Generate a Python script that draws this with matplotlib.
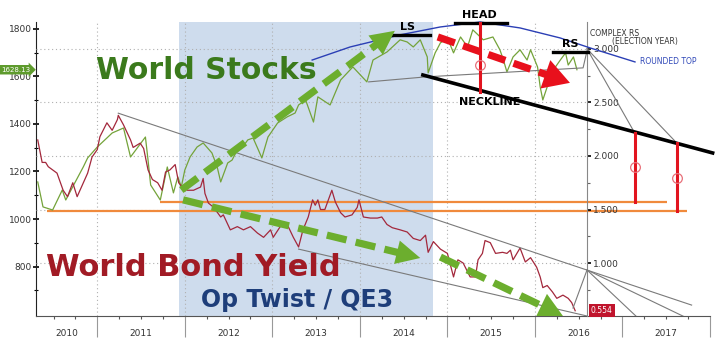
import matplotlib
matplotlib.use('Agg')
import numpy as np
import matplotlib.pyplot as plt
import matplotlib.transforms as mtrans
from matplotlib.patches import Polygon

# --- data ---
stock_years = [2010.32, 2010.38, 2010.49, 2010.60, 2010.64, 2010.73, 2010.84, 2010.89, 2011.00, 2011.11,
               2011.17, 2011.30, 2011.38, 2011.55, 2011.58, 2011.61, 2011.72, 2011.80, 2011.87, 2011.92,
               2011.96, 2012.00, 2012.06, 2012.14, 2012.21, 2012.31, 2012.37, 2012.41, 2012.49, 2012.54,
               2012.60, 2012.66, 2012.72, 2012.78, 2012.84, 2012.88, 2012.95, 2013.06, 2013.17, 2013.26,
               2013.30, 2013.38, 2013.47, 2013.52, 2013.66, 2013.78, 2013.92, 2014.08, 2014.15, 2014.31,
               2014.46, 2014.54, 2014.61, 2014.69, 2014.77, 2014.78, 2014.86, 2014.92, 2015.00, 2015.07,
               2015.15, 2015.23, 2015.29, 2015.41, 2015.52, 2015.60, 2015.64, 2015.68, 2015.75, 2015.83,
               2015.91, 2015.95, 2016.03, 2016.06, 2016.09, 2016.14, 2016.21, 2016.29, 2016.35, 2016.38,
               2016.44, 2016.48]
stock_vals = [1156, 1051, 1038, 1122, 1080, 1143, 1219, 1257, 1303, 1341,
              1362, 1383, 1261, 1345, 1248, 1143, 1080, 1219, 1110, 1177,
              1135, 1206, 1261, 1303, 1320, 1278, 1219, 1156, 1236, 1248,
              1291, 1303, 1333, 1341, 1291, 1257, 1345, 1404, 1430, 1446,
              1480, 1501, 1408, 1514, 1480, 1585, 1640, 1577, 1669, 1703,
              1754, 1745, 1724, 1754, 1682, 1615, 1699, 1741, 1762, 1699,
              1766, 1724, 1796, 1754, 1766, 1712, 1669, 1619, 1682, 1712,
              1669, 1712, 1640, 1556, 1501, 1556, 1627, 1669, 1699, 1648,
              1682, 1628.13]

yield_years = [2010.32, 2010.37, 2010.41, 2010.44, 2010.49, 2010.54, 2010.61, 2010.66, 2010.72, 2010.77,
               2010.83, 2010.89, 2010.94, 2011.00, 2011.03, 2011.11, 2011.17, 2011.23, 2011.24, 2011.30,
               2011.38, 2011.41, 2011.49, 2011.53, 2011.58, 2011.63, 2011.69, 2011.74, 2011.78, 2011.83,
               2011.89, 2011.93, 2011.98, 2012.03, 2012.10, 2012.18, 2012.21, 2012.23, 2012.27, 2012.33,
               2012.41, 2012.44, 2012.52, 2012.60, 2012.67, 2012.75, 2012.83, 2012.90, 2012.98, 2013.01,
               2013.09, 2013.17, 2013.24, 2013.30, 2013.35, 2013.41, 2013.46, 2013.49, 2013.52, 2013.55,
               2013.60, 2013.68, 2013.72, 2013.78, 2013.83, 2013.91, 2013.97, 2013.99, 2014.04, 2014.12,
               2014.20, 2014.25, 2014.31, 2014.37, 2014.46, 2014.54, 2014.61, 2014.69, 2014.75, 2014.78,
               2014.84, 2014.92, 2015.00, 2015.07, 2015.12, 2015.18, 2015.26, 2015.32, 2015.35, 2015.40,
               2015.43, 2015.49, 2015.55, 2015.63, 2015.68, 2015.72, 2015.75, 2015.83, 2015.89, 2015.95,
               2016.02, 2016.06, 2016.09, 2016.14, 2016.20, 2016.25, 2016.32, 2016.38, 2016.42, 2016.46]
yield_vals = [2.15, 1.94, 1.94, 1.90, 1.87, 1.84, 1.68, 1.62, 1.75, 1.62,
              1.73, 1.84, 1.99, 2.06, 2.18, 2.31, 2.24, 2.34, 2.38, 2.29,
              2.15, 2.08, 2.12, 2.07, 1.87, 1.78, 1.75, 1.68, 1.85, 1.87,
              1.92, 1.75, 1.70, 1.68, 1.68, 1.71, 1.79, 1.65, 1.56, 1.52,
              1.43, 1.45, 1.31, 1.34, 1.31, 1.34, 1.28, 1.24, 1.31, 1.24,
              1.34, 1.36, 1.24, 1.15, 1.31, 1.43, 1.59, 1.54, 1.59, 1.50,
              1.50, 1.68, 1.57, 1.47, 1.43, 1.45, 1.52, 1.59, 1.43, 1.42,
              1.42, 1.43, 1.36, 1.33, 1.31, 1.29, 1.23, 1.21, 1.26, 1.10,
              1.20, 1.13, 1.09, 0.87, 1.03, 1.00, 0.87, 0.87, 1.03, 1.09,
              1.21, 1.19, 1.09, 1.10, 1.09, 1.12, 1.03, 1.14, 1.01, 1.05,
              0.96, 0.87, 0.77, 0.79, 0.73, 0.67, 0.70, 0.67, 0.63, 0.554]

year_labels = ['2010', '2011', '2012', '2013', '2014', '2015', '2016', '2017']
year_bounds = [2011, 2012, 2013, 2014, 2015, 2016, 2017, 2018]
left_ticks = [800, 1000, 1200, 1400, 1600, 1800]
right_ticks = [1.0, 1.5, 2.0, 2.5, 3.0]
qe_span = (2011.93, 2014.83)

# hand drawn overlays (stock scale)
round_top_x = [2013.455, 2013.889, 2014.46, 2014.917, 2015.373, 2015.83, 2016.287, 2016.63, 2017.143]
round_top_y = [1669, 1724, 1775, 1808, 1829, 1804, 1762, 1720, 1661]
neck_grey_x = [2014.10, 2014.75, 2016.55, 2016.60]
neck_grey_y = [1577, 1598, 1636, 1716]
neck_black_x = [2014.72, 2018.03]
neck_black_y = [1606, 1278]
# hand drawn overlays (yield scale)
chan_top_x, chan_top_y = [2011.24, 2017.79], [2.40, 0.607]
chan_low_x, chan_low_y = [2013.30, 2016.595], [1.13, 0.505]
orange_hi = (2011.72, 2017.51, 1.57)
orange_lo = (2010.43, 2017.74, 1.486)

XMIN, XMAX = 2010.30, 2018.0
RAX = 2016.6

fig = plt.figure(figsize=(7.2, 3.41), dpi=100)
ax = fig.add_axes([36 / 720, 25 / 341, 674 / 720, 294 / 341])
ax.set_xlim(XMIN, XMAX)
ax.set_ylim(592, 1829)
ax2 = ax.twinx()
ax2.set_ylim(0.505, 3.252)
ax2.set_xlim(XMIN, XMAX)

ts = ax.transData
ty = ax2.transData

ax.axvspan(*qe_span, color='#cedced', zorder=0, lw=0)

# grid
for yb in year_bounds[:6]:
    ax.axvline(yb, color='#b0b0b0', lw=0.8, ls=(0, (1, 2.5)), zorder=0.5)
ax2.hlines(right_ticks, XMIN, RAX, colors='#b0b0b0', lw=0.8, linestyles=[(0, (1, 2.5))], zorder=0.5)

# orange lines
ax2.hlines([orange_hi[2]], orange_hi[0], orange_hi[1], colors='#f08a3c', lw=1.6, zorder=1, clip_on=False)
ax2.hlines([orange_lo[2]], orange_lo[0], orange_lo[1], colors='#f08a3c', lw=1.6, zorder=1, clip_on=False)

# series
ax2.plot(stock_years, stock_vals, color='#74a33a', lw=0.9, transform=ts, zorder=2)
ax2.plot(yield_years, yield_vals, color='#a3283c', lw=0.9, zorder=2)

grey = '#7a7a7a'
ax2.plot(chan_top_x, chan_top_y, color=grey, lw=0.8, zorder=3, clip_on=False)
ax2.plot(chan_low_x, chan_low_y, color=grey, lw=0.8, zorder=3)
ax2.plot([2016.435, 2016.595], [0.579, 0.935], color=grey, lw=0.8, zorder=3)
ax2.plot([2016.595, 2017.166], [0.935, 0.495], color=grey, lw=0.8, zorder=3)
ax2.plot([2016.595, 2017.714], [0.935, 0.495], color=grey, lw=0.8, zorder=3)

ax2.plot(neck_grey_x, neck_grey_y, color=grey, lw=0.8, transform=ts, zorder=3)
ax2.plot([2016.595, 2017.14], [1716, 1362], color=grey, lw=0.8, transform=ts, zorder=3)
ax2.plot([2016.595, 2017.62], [1716, 1320], color=grey, lw=0.8, transform=ts, zorder=3)
ax2.plot(neck_black_x, neck_black_y, color='black', lw=2.6, transform=ts, zorder=4, clip_on=False)
ax2.plot(round_top_x, round_top_y, color='#2b3fb5', lw=1.0, transform=ts, zorder=4, clip_on=False)

for xs, yv in [((2014.32, 2014.80), 1775), ((2015.09, 2015.68), 1825), ((2016.21, 2016.61), 1703)]:
    ax2.plot(xs, [yv, yv], color='black', lw=2.4, transform=ts, zorder=4, clip_on=False)

red = '#e2141f'
for xv, y0, y1, yc in [(2015.37, 1535, 1825, 1648), (2017.14, 1072, 1362, 1219), (2017.62, 1034, 1320, 1173)]:
    ax2.plot([xv, xv], [y0, y1], color=red, lw=2.2, transform=ts, zorder=5, clip_on=False)
    ax2.plot([xv], [yc], marker='o', ms=7, mfc='none', mec='#e8707a', mew=0.9, transform=ts, zorder=6)

ident = mtrans.IdentityTransform()


def dashed_arrow(tr, p0, p1, color, lw, dash, hl, hw):
    a = np.array(tr.transform(p0))
    b = np.array(tr.transform(p1))
    u = (b - a) / np.hypot(*(b - a))
    n = np.array([-u[1], u[0]])
    base = b - u * hl
    ax2.plot([a[0], base[0] + u[0] * 2], [a[1], base[1] + u[1] * 2], color=color, lw=lw,
             ls=(0, dash), solid_capstyle='butt', dash_capstyle='butt', transform=ident, zorder=7)
    ax2.add_patch(Polygon([b, base + n * hw, base - n * hw], closed=True, fc=color, ec='none',
                          transform=ident, zorder=7))


green = '#6cae2e'
dashed_arrow(ts, (2011.96, 1122), (2014.40, 1792), green, 5.2, (2.8, 1.3), 24, 12)
dashed_arrow(ty, (2011.98, 1.59), (2014.69, 1.047), green, 5.2, (2.8, 1.3), 24, 12)
dashed_arrow(ty, (2014.92, 1.056), (2016.32, 0.505), green, 5.2, (2.8, 1.3), 24, 13)
dashed_arrow(ts, (2014.89, 1766), (2016.40, 1573), '#e8101c', 5.2, (2.5, 1.2), 26, 15)

# big labels
ax2.text(2010.99, 1623, 'World Stocks', transform=ts, color='#3b7a1c', fontsize=21.5,
         fontweight='bold', ha='left', va='center', zorder=8)
ax2.text(2010.41, 794, 'World Bond Yield', transform=ts, color='#a11b25', fontsize=22,
         fontweight='bold', ha='left', va='center', zorder=8)
ax2.text(2012.19, 659, 'Op Twist / QE3', transform=ts, color='#1e3e7a', fontsize=17,
         fontweight='bold', ha='left', va='center', zorder=8)

for txt, xv, yv in [('LS', 2014.54, 1808), ('HEAD', 2015.37, 1860), ('RS', 2016.40, 1737),
                    ('NECKLINE', 2015.48, 1493)]:
    ax2.text(xv, yv, txt, transform=ts, fontsize=8, fontweight='bold', ha='center', va='center',
             zorder=8, clip_on=False)
ax2.text(2016.63, 1782, 'COMPLEX RS', transform=ts, fontsize=5.5, color='#333333', ha='left',
         va='center', zorder=8)
ax2.text(2016.88, 1745, '(ELECTION YEAR)', transform=ts, fontsize=5.5, color='#333333', ha='left',
         va='center', zorder=8)
ax2.text(2017.20, 1661, 'ROUNDED TOP', transform=ts, fontsize=5.5, color='#3048b8', ha='left',
         va='center', zorder=8)

# tags
bl = mtrans.blended_transform_factory(fig.transFigure, ax.transData)
ax.text(0.002, stock_vals[-1], '%.2f' % stock_vals[-1], transform=bl, fontsize=5, color='white',
        ha='left', va='center', zorder=9, clip_on=False,
        bbox=dict(boxstyle='rarrow,pad=0.25', fc='#5e9b2d', ec='none'))
ax2.text(2016.64, 0.553, '%.3f' % yield_vals[-1], fontsize=5.5, color='white', ha='left', va='center',
         zorder=9, bbox=dict(boxstyle='square,pad=0.25', fc='#c0142c', ec='none'))

# axes styling
for s in ['top', 'right']:
    ax.spines[s].set_visible(False)
for s in ['top', 'left', 'bottom']:
    ax2.spines[s].set_visible(False)
ax.spines['left'].set_color('#222222')
ax.spines['bottom'].set_color('#555555')
ax2.spines['right'].set_position(('data', RAX))
ax2.spines['right'].set_color('#888888')

ax.set_yticks(left_ticks)
ax.set_yticklabels([str(v) for v in left_ticks])
ax.set_yticks(np.arange(700, 1800, 200), minor=True)
ax.tick_params(axis='y', which='major', direction='inout', length=4, width=1.2, labelsize=6.5,
               labelcolor='#333333', pad=1)
ax.tick_params(axis='y', which='minor', direction='inout', length=3, width=0.8)

ax2.set_yticks(right_ticks)
ax2.set_yticklabels(['%.3f' % v for v in right_ticks])
ax2.set_yticks(np.arange(0.75, 3.2, 0.5), minor=True)
ax2.tick_params(axis='y', which='major', direction='out', length=3, width=1.2, labelsize=6.5,
                labelcolor='#333333', pad=1)
ax2.tick_params(axis='y', which='minor', direction='out', length=2, width=0.8, color='#666666')

ax.set_xticks(year_bounds)
ax.set_xticklabels([])
ax.set_xticks(np.arange(2010.5, 2018, 0.25), minor=True)
ax.tick_params(axis='x', which='major', direction='out', length=15, width=0.8, color='#999999')
ax.tick_params(axis='x', which='minor', direction='out', length=2.5, width=0.8, color='#555555')

for i, lab in enumerate(year_labels):
    lo = max(2010 + i, XMIN)
    hi = min(2011 + i, XMAX)
    ax.text((lo + hi) / 2, -0.058, lab, transform=mtrans.blended_transform_factory(ax.transData, ax.transAxes),
            fontsize=6.5, color='#333333', ha='center', va='center')

fig.savefig('out.png', dpi=100)
